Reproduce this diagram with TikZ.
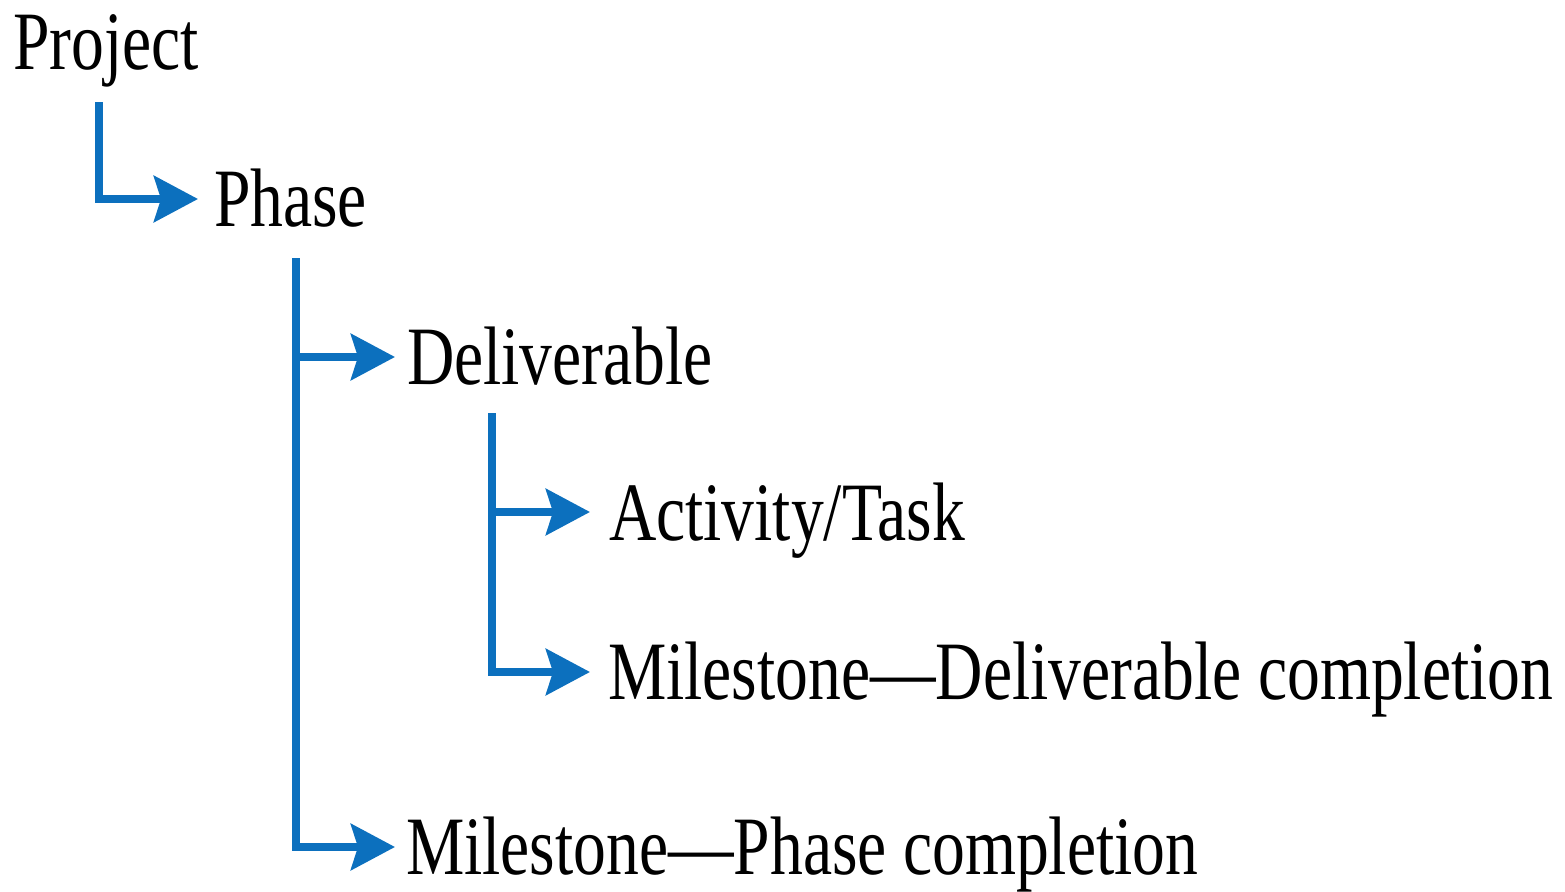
\documentclass[tikz,border=0pt]{standalone}
\usepackage{graphicx}
\usepackage{fontspec}
\setmainfont{Liberation Serif}
\usetikzlibrary{arrows.meta}
\definecolor{linkblue}{RGB}{12,112,190}
% condensed serif labels
\newcommand{\narrowtext}[1]{\scalebox{0.79}[1]{#1}}
\begin{document}
\begin{tikzpicture}[x=1pt,y=-1pt,
  lbl/.style={inner sep=0pt, outer sep=0pt, anchor=base west,
              font=\fontsize{83}{90}\selectfont},
  conn/.style={draw=linkblue, line width=8pt, line join=miter,
               -{Stealth[length=44pt,width=46pt,inset=7pt]}}]
\useasboundingbox (0,0) rectangle (1565,891);

% hierarchy labels
\node[lbl] (project)   at (13,70)   {\narrowtext{Project}};
\node[lbl] (phase)     at (214,226) {\narrowtext{Phase}};
\node[lbl] (deliv)     at (407,384) {\narrowtext{Deliverable}};
\node[lbl] (activity)  at (609,540) {\narrowtext{Activity/Task}};
\node[lbl] (msdeliv)   at (608,699) {\narrowtext{Milestone—Deliverable completion}};
\node[lbl] (msphase)   at (406,874) {\narrowtext{Milestone—Phase completion}};

% stems hanging below each parent
\coordinate (s0) at (99,102);
\coordinate (s1) at (296,258);
\coordinate (s2) at (491.5,413);

% arrow tips in front of each child label
\coordinate (tphase)    at ([xshift=-16pt,yshift=27pt]phase.base west);
\coordinate (tdeliv)    at ([xshift=-12pt,yshift=27pt]deliv.base west);
\coordinate (tactivity) at ([xshift=-19pt,yshift=28pt]activity.base west);
\coordinate (tmsdeliv)  at ([xshift=-18pt,yshift=27pt]msdeliv.base west);
\coordinate (tmsphase)  at ([xshift=-11pt,yshift=27pt]msphase.base west);

\draw[conn] (s0) |- (tphase);
\draw[conn] (s1) |- (tdeliv);
\draw[conn] (s1) |- (tmsphase);
\draw[conn] (s2) |- (tactivity);
\draw[conn] (s2) |- (tmsdeliv);
\end{tikzpicture}
\end{document}
